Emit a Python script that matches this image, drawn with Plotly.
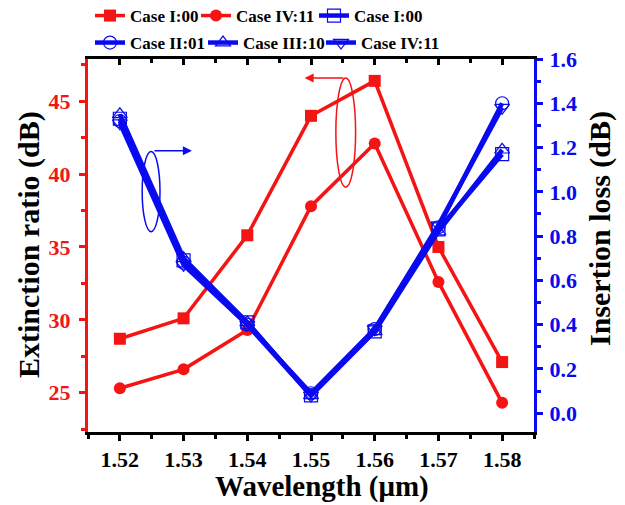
import plotly.graph_objects as go

wavelength = [1.52, 1.53, 1.54, 1.55, 1.56, 1.57, 1.58]

# Extinction ratio (dB)
er_case1_00 = [28.7, 30.1, 35.8, 44.0, 46.4, 35.0, 27.1]
er_case4_11 = [25.3, 26.6, 29.3, 37.8, 42.1, 32.6, 24.3]

# Insertion loss (dB)
il_case1_00 = [1.33, 0.69, 0.41, 0.08, 0.37, 0.83, 1.17]
il_case2_01 = [1.32, 0.68, 0.40, 0.09, 0.38, 0.84, 1.40]
il_case3_10 = [1.35, 0.70, 0.41, 0.08, 0.37, 0.82, 1.19]
il_case4_11 = [1.31, 0.67, 0.40, 0.08, 0.38, 0.85, 1.38]

RED = "#F41414"
BLUE = "#0A0AF0"
FONT = "Liberation Serif"

# page body has an 8px margin, so the figure is drawn 8px in from the corner
OFF = 8
W, H = 625 - OFF, 505 - OFF
PL, PR, PT, PB = 88, 534, 59, 432          # plot box in screen pixels
ml, mr, mt, mb = PL - OFF, W - (PR - OFF), PT - OFF, H - (PB - OFF)
PW, PH = PR - PL, PB - PT


def px_x(sx):
    return (sx - PL) / PW


def px_y(sy):
    return (PB - sy) / PH


def cont_y(sy):
    return 1 - (sy - OFF) / H


fig = go.Figure()

fig.add_trace(go.Scatter(x=wavelength, y=er_case1_00, name="Case I:00", mode="lines+markers",
                         line=dict(color=RED, width=3.5), marker=dict(symbol="square", size=12, color=RED),
                         legend="legend"))
fig.add_trace(go.Scatter(x=wavelength, y=er_case4_11, name="Case IV:11", mode="lines+markers",
                         line=dict(color=RED, width=3.5), marker=dict(symbol="circle", size=12, color=RED),
                         legend="legend2"))

blue_series = [
    ("Case I:00", il_case1_00, "square-open", "legend3"),
    ("Case II:01", il_case2_01, "circle-open", "legend4"),
    ("Case III:10", il_case3_10, "triangle-up-open", "legend5"),
    ("Case IV:11", il_case4_11, "triangle-down-open", "legend6"),
]
for name, vals, sym, lg in blue_series:
    fig.add_trace(go.Scatter(x=wavelength, y=vals, name=name, mode="lines+markers",
                             xaxis="x2", yaxis="y2",
                             line=dict(color=BLUE, width=4.5),
                             marker=dict(symbol=sym, size=13, color=BLUE, line=dict(width=1.2, color=BLUE)),
                             legend=lg))

xr = [1.515, 1.585]
tickfont = dict(family=FONT, size=22, weight="bold")
titlefont = dict(family=FONT, size=30, weight="bold", color="black")
xtitlefont = dict(family=FONT, size=29, weight="bold", color="black")
legfont = dict(family=FONT, size=17, weight="bold", color="black")

# legend entry positions (screen px): text start x, row centre y
legend_pos = {
    "legend": (130, 16), "legend2": (236, 16), "legend3": (354, 16),
    "legend4": (130, 43), "legend5": (243, 43), "legend6": (361, 43),
}
legends = {}
for key, (sx, sy) in legend_pos.items():
    legends[key] = dict(orientation="h", x=px_x(sx - 40), xanchor="left",
                        y=cont_y(sy), yref="container", yanchor="middle",
                        font=legfont, bgcolor="rgba(0,0,0,0)", itemwidth=30,
                        entrywidth=110, borderwidth=0)

fig.update_layout(
    width=W, height=H,
    margin=dict(l=ml, r=mr, t=mt, b=mb, autoexpand=False),
    paper_bgcolor="white", plot_bgcolor="white",
    font=dict(family=FONT, weight="bold"),
    xaxis=dict(range=xr, dtick=0.01, tick0=1.52, tickformat=".2f", automargin=False,
               ticks="outside", ticklen=6, tickwidth=3, tickcolor="black",
               minor=dict(dtick=0.005, ticks="outside", ticklen=4, tickwidth=3, tickcolor="black"),
               showline=True, linewidth=3, linecolor="black", showgrid=False, zeroline=False,
               tickfont=dict(tickfont, color="black")),
    xaxis2=dict(range=xr, overlaying="x", side="top", anchor="y2", dtick=0.01, tick0=1.52,
                automargin=False,
                ticks="inside", ticklen=6, tickwidth=3, tickcolor="black",
                minor=dict(dtick=0.005, ticks="inside", ticklen=4, tickwidth=3, tickcolor="black"),
                showticklabels=False, showline=True, linewidth=3, linecolor="black",
                showgrid=False, zeroline=False),
    yaxis=dict(range=[22.3, 47.9], dtick=5, tick0=25, automargin=False,
               ticks="outside", ticklen=6, tickwidth=3, tickcolor=RED, ticklabelstandoff=4,
               minor=dict(dtick=2.5, ticks="outside", ticklen=4, tickwidth=3, tickcolor=RED),
               showline=True, linewidth=3, linecolor=RED, showgrid=False, zeroline=False,
               tickfont=dict(tickfont, color=RED)),
    yaxis2=dict(range=[-0.085, 1.6], overlaying="y", side="right", anchor="x2", dtick=0.2, tick0=0,
                tickformat=".1f", automargin=False, ticklabelstandoff=2,
                ticks="outside", ticklen=6, tickwidth=3, tickcolor=BLUE,
                minor=dict(dtick=0.1, ticks="outside", ticklen=4, tickwidth=3, tickcolor=BLUE),
                showline=True, linewidth=3, linecolor=BLUE, showgrid=False, zeroline=False,
                tickfont=dict(tickfont, color=BLUE)),
    showlegend=True,
    **legends,
)

# axis titles
fig.add_annotation(text="Wavelength (μm)", xref="paper", yref="paper", x=px_x(322), y=px_y(487),
                   xanchor="center", yanchor="middle", showarrow=False, font=xtitlefont)
fig.add_annotation(text="Extinction ratio (dB)", xref="paper", yref="paper", x=px_x(29), y=px_y(245),
                   xanchor="center", yanchor="middle", textangle=-90, showarrow=False, font=titlefont)
fig.add_annotation(text="Insertion loss (dB)", xref="paper", yref="paper", x=px_x(600), y=px_y(229),
                   xanchor="center", yanchor="middle", textangle=-90, showarrow=False, font=titlefont)

# ellipses and arrows (annotation markers)
fig.add_shape(type="circle", xref="x", yref="y", x0=1.5539, x1=1.5570, y0=39.1, y1=46.6,
              line=dict(color=RED, width=1.5))
fig.add_annotation(x=1.5490, y=46.6, ax=1.5553, ay=46.6, xref="x", yref="y", axref="x", ayref="y",
                   text="", showarrow=True, arrowhead=2, arrowsize=1.2, arrowwidth=1.5, arrowcolor=RED)
fig.add_shape(type="circle", xref="x", yref="y", x0=1.5235, x1=1.5263, y0=36.05, y1=41.55,
              line=dict(color=BLUE, width=1.5))
fig.add_annotation(x=1.5313, y=41.6, ax=1.5252, ay=41.6, xref="x", yref="y", axref="x", ayref="y",
                   text="", showarrow=True, arrowhead=2, arrowsize=1.2, arrowwidth=1.5, arrowcolor=BLUE)

fig.write_html("out.html")
